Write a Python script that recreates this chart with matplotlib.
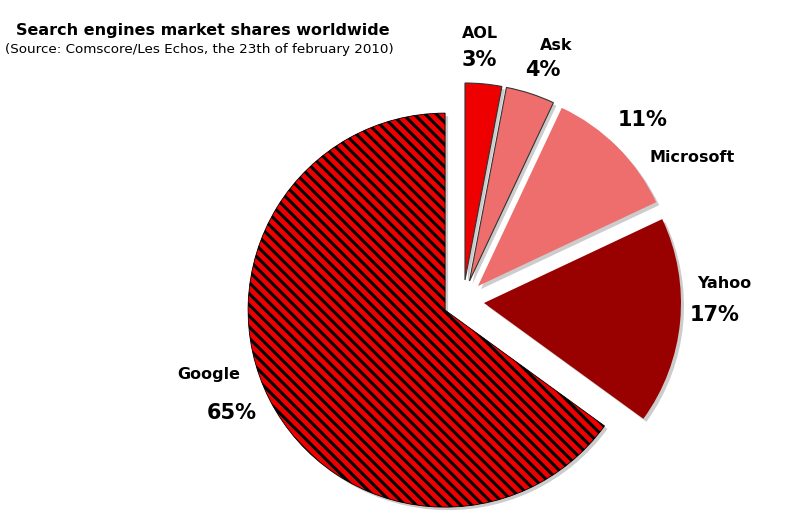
import matplotlib.pyplot as plt

plt.rcParams['hatch.linewidth'] = 2.2

names = ["AOL", "Ask", "Microsoft", "Yahoo", "Google"]
shares = [3, 4, 11, 17, 65]
colors = ["#ee0000", "#ee6e6e", "#ee6e6e", "#990000", "#ee0000"]

R = 197
explode = [f * R for f in [0.107, 0.107, 0.107, 0.107, 0.102]]

fig = plt.figure(figsize=(7.97, 5.17), dpi=100)
ax = fig.add_axes([0, 0, 1, 1])

# grey drop shadow under the slices
ax.pie(shares, explode=explode, startangle=90, counterclock=False,
       colors=["#cccccc"] * 5, radius=R, center=(466, 213),
       wedgeprops=dict(linewidth=0))

wedges, _ = ax.pie(shares, explode=explode, startangle=90, counterclock=False,
                   colors=colors, radius=R, center=(463, 216),
                   wedgeprops=dict(linewidth=0.8, edgecolor="#333333"))
wedges[2].set_edgecolor("none")
wedges[3].set_edgecolor("none")
wedges[4].set_facecolor("#ee0000")
wedges[4].set_hatch("\\\\\\")
wedges[4].set_edgecolor("black")
wedges[4].set_linewidth(0.6)

ax.set_xlim(0, 797)
ax.set_ylim(0, 517)
ax.set_aspect('equal')
ax.axis('off')

# labels: (name position, percent position)
name_pos = [(462, 484), (540, 472), (650, 360), (697, 234), (177, 142)]
pct_pos = [(462, 457), (525, 447), (618, 397), (690, 202), (207, 104)]
for n, s, npos, ppos in zip(names, shares, name_pos, pct_pos):
    ax.text(npos[0], npos[1], n, fontsize=11.5, fontweight='bold',
            ha='left', va='center', family='DejaVu Sans')
    ax.text(ppos[0], ppos[1], f"{s}%", fontsize=15, fontweight='bold',
            ha='left', va='center', family='DejaVu Sans')

ax.text(16, 487, "Search engines market shares worldwide", fontsize=11.5,
        fontweight='bold', ha='left', va='center')
ax.text(5, 467, "(Source: Comscore/Les Echos, the 23th of february 2010)",
        fontsize=9.7, ha='left', va='center')

fig.savefig("out.png", dpi=100)
